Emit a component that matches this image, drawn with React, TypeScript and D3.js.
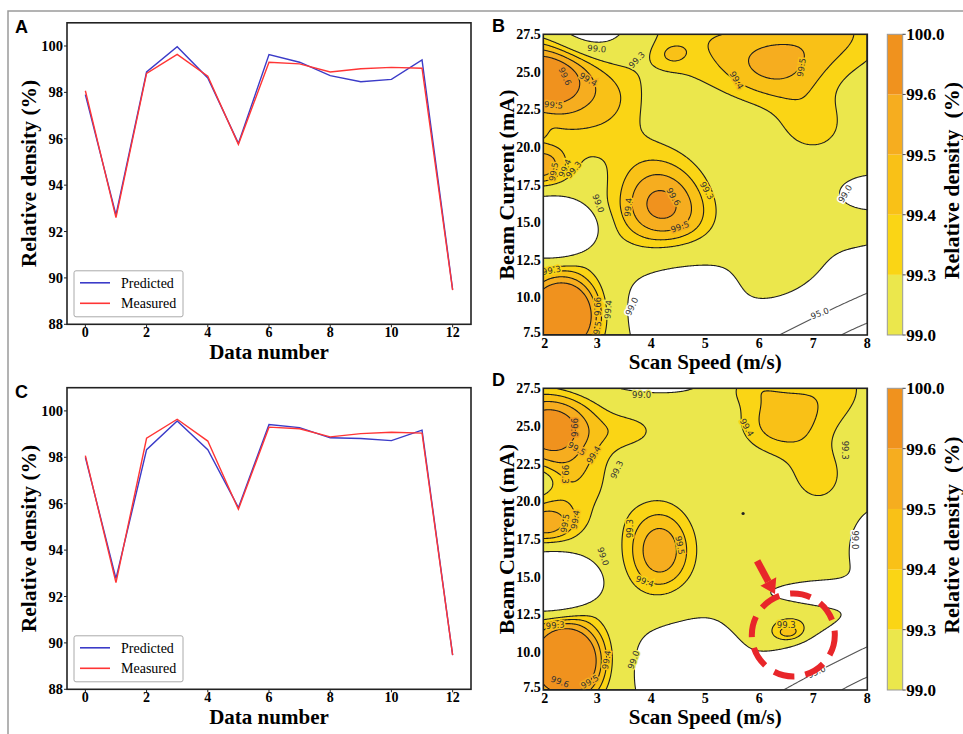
import React, { useMemo } from "react";
import * as d3 from "d3";

// ---------------- data: line panels ----------------
const dataNumber = [0, 1, 2, 3, 4, 5, 6, 7, 8, 9, 10, 11, 12];
const predictedA = [97.9, 92.72, 98.88, 99.97, 98.62, 95.8, 99.63, 99.3, 98.72, 98.46, 98.56, 99.4, 89.5];
const measuredA = [98.07, 92.6, 98.82, 99.64, 98.7, 95.76, 99.3, 99.23, 98.88, 99.02, 99.08, 99.04, 89.47];
const predictedC = [98.0, 92.77, 98.33, 99.57, 98.33, 95.83, 99.41, 99.28, 98.84, 98.81, 98.72, 99.17, 89.47];
const measuredC = [98.07, 92.6, 98.82, 99.64, 98.7, 95.76, 99.3, 99.23, 98.88, 99.02, 99.08, 99.04, 89.47];
const densityTicks = [88, 90, 92, 94, 96, 98, 100];
const numberTicks = [0, 2, 4, 6, 8, 10, 12];
const seriesNames = ["Predicted", "Measured"];

// ---------------- data: contour panels ----------------
const speedTicks = [2, 3, 4, 5, 6, 7, 8];
const currentTicks = [7.5, 10, 12.5, 15, 17.5, 20, 22.5, 25, 27.5];
const fillLevels = [99.0, 99.3, 99.4, 99.5, 99.6, 100.0];
const lineLevels = [88, 95, 99.0, 99.3, 99.4, 99.5, 99.6];
const colorbarTicks = ["100.0", "99.6", "99.5", "99.4", "99.3", "99.0"];

// density surface B: base level + bumps (centre speed, centre current, amplitude, spread u, spread v, rotation, shape)
const baseB = 99.12;
const bumpB_s = [2.0, 2.9, 4.7, 7.5, 6.25, 7.0, 4.38, 2.8, 1.9, 1.95, 4.15, 4.9, 2.35, 2.15, 8.1, 7.84, 4.6, 7.6, 6.45, 3.4];
const bumpB_c = [24.8, 28.3, 27.5, 27.8, 25.1, 21.3, 26.1, 21.3, 18.7, 21.1, 16.1, 14.6, 8.8, 14.6, 17.0, 7.33, 9.3, 12.0, 11.4, 23.3];
const bumpB_a = [0.62, -0.5, 0.24, 0.27, 0.29, 0.22, 0.1, 0.2, 0.42, 0.08, 0.51, 0.08, 0.85, -0.6, -0.3, -12, -0.45, -0.12, 0.22, 0.08];
const bumpB_su = [40, 30, 60, 50, 40, 30, 11, 45, 21.5, 6, 35.6, 25, 29.7, 33, 25, 150, 44, 30, 25, 20];
const bumpB_sv = [28.6, 22, 40, 35, 28, 25, 8, 30, 15, 7, 37.6, 25, 30.8, 22, 13, 25.3, 38, 20, 22, 20];
const bumpB_rot = [0, 0, 0, 0, 0, 0, 0, 0, 0, 0, 0, 0, 0, 0, 0, 24.5, 0, 0, 0, 0];
const bumpB_shape = [1, 1, 1, 1, 1, 1, 1, 1, 1, 1, 1, 1, 1, 2, 1, 1, 1, 1, 1, 1];

// density surface D
const baseD = 99.12;
const bumpD_s = [2.1, 4.0, 3.7, 2.5, 1.85, 2.0, 2.15, 2.43, 4.16, 6.3, 7.3, 7.1, 5.75, 8.15, 7.86, 4.7, 6.6, 6.55, 7.3];
const bumpD_c = [25.0, 28.6, 24.7, 21.0, 21.4, 18.45, 14.6, 9.4, 16.7, 25.1, 27.6, 21.5, 28.0, 16.7, 7.4, 9.0, 12.0, 11.2, 13.8];
const bumpD_a = [0.56, -0.35, 0.17, 0.22, -0.2, 0.38, -0.6, 0.85, 0.46, 0.28, 0.22, 0.22, 0.22, -0.35, -12, -0.4, 0.2, 0.22, -0.4];
const bumpD_su = [38, 60, 25, 35, 15, 25, 35, 30, 27, 33, 40, 25, 25, 18, 150, 44, 32, 13, 45];
const bumpD_sv = [28.6, 15, 15, 30, 10, 15, 22, 31, 36, 26, 35, 25, 15, 30, 25.3, 36, 20, 7, 10];
const bumpD_rot = [0, 0, 0, 0, 0, 0, 0, 0, 0, 0, 0, 0, 0, 0, 26.5, 0, 0, 0, 0];
const bumpD_shape = [1, 1, 1, 1, 1, 1, 2, 1, 1, 1, 1, 1, 1, 1, 1, 1, 1, 1, 1];

// contour labels
const labelB_text = ["99.0", "99.3", "99.6", "99.4", "99.5", "99.5", "99.4", "99.3", "99.0", "99.3", "99.6", "99.4", "99.5", "99.0", "99.6", "99.5", "99.4", "99.3", "99.4", "99.5", "99.0", "95.0"];
const labelB_s = [2.99, 3.73, 2.4, 2.83, 2.19, 2.19, 2.4, 2.56, 3.02, 2.15, 2.99, 3.2, 2.99, 3.64, 4.41, 4.53, 3.57, 5.03, 5.58, 6.78, 7.59, 7.12];
const labelB_c = [26.55, 25.8, 24.7, 24.5, 22.8, 18.36, 18.6, 18.5, 16.25, 11.8, 9.4, 9.2, 7.8, 9.4, 16.7, 14.7, 16.0, 17.1, 24.45, 25.3, 16.9, 8.94];
const labelB_rot = [5, -45, 65, 30, 5, -80, -65, -50, 70, -10, 90, -85, -80, -65, 60, -20, -85, 60, 60, -80, -60, -20];

const labelD_text = ["99.0", "99.6", "99.5", "99.4", "99.3", "99.3", "99.5", "99.4", "99.0", "99.3", "99.4", "99.6", "99.5", "99.0", "99.3", "99.5", "99.4", "99.4", "99.3", "99.0", "99.3", "95.0"];
const labelD_s = [3.82, 2.56, 2.62, 2.93, 2.4, 3.36, 2.4, 2.59, 3.11, 2.22, 3.17, 2.31, 2.86, 3.67, 3.6, 4.53, 3.88, 5.77, 7.59, 7.77, 6.5, 7.06];
const labelD_c = [27.08, 24.9, 23.5, 23.1, 21.8, 22.1, 18.56, 18.8, 16.35, 11.8, 9.5, 8.05, 8.05, 9.5, 18.2, 17.1, 14.7, 24.9, 23.4, 17.45, 11.8, 8.7];
const labelD_rot = [0, 90, 30, -60, 90, -65, -80, -80, 70, -5, -80, 20, -30, -70, -90, 80, 20, 60, 90, 90, 0, -25];

// annotation in D (speed, current)
const markCircle = [6.63, 11.15];
const markArrowFrom = [5.96, 16.06];
const markArrowTo = [6.29, 13.87];
const markDot = [5.7, 19.2];

// ---------------- styles ----------------
const bandColors = ["#ebe74c", "#fad515", "#f9c117", "#f6ad1f", "#f0921e"];
const SERIF = "'Liberation Serif','Times New Roman',serif";
const SANS = "'Liberation Sans',Arial,sans-serif";
const LABELFONT = "'DejaVu Sans',sans-serif";

type Model = { base: number; S: number[]; C: number[]; A: number[]; SU: number[]; SV: number[]; R: number[]; P: number[] };

function makeField(m: Model, kx: number, ky: number) {
  const cs = m.R.map((r) => Math.cos((r * Math.PI) / 180));
  const sn = m.R.map((r) => Math.sin((r * Math.PI) / 180));
  return (s: number, c: number) => {
    let v = m.base;
    for (let i = 0; i < m.S.length; i++) {
      const du = (s - m.S[i]) * kx;
      const dv = (c - m.C[i]) * ky;
      const a = du * cs[i] + dv * sn[i];
      const b = -du * sn[i] + dv * cs[i];
      const r = 0.5 * ((a / m.SU[i]) ** 2 + (b / m.SV[i]) ** 2);
      v += m.A[i] * (m.P[i] === 2 ? Math.exp(-r * r) : Math.exp(-r));
    }
    return v;
  };
}

function bandColor(v: number) {
  if (v < fillLevels[0] || v >= fillLevels[fillLevels.length - 1]) return "#ffffff";
  let k = 0;
  for (let i = 1; i < fillLevels.length - 1; i++) if (v >= fillLevels[i]) k = i;
  return bandColors[k];
}

function LinePanel({ top, bottom, pred, meas, letter }: any) {
  const X0 = 67, X1 = 471;
  const x = d3.scaleLinear().domain([-0.6, 12.6]).range([X0, X1]);
  const y = d3.scaleLinear().domain([88, 101]).range([bottom, top]);
  const line = d3.line<number>().x((_, i) => x(dataNumber[i])).y((d) => y(d));
  const mid = (top + bottom) / 2;
  const lx = 74, lw = 109, lh = 46, ly = bottom - 7.5 - lh;
  return (
    <g>
      <text x={15} y={top + 10} fontFamily={SANS} fontWeight="bold" fontSize={18}>{letter}</text>
      <path d={line(pred) || ""} fill="none" stroke="#3b3bc8" strokeWidth={1.4} />
      <path d={line(meas) || ""} fill="none" stroke="#ff3535" strokeWidth={1.4} />
      <rect x={X0} y={top} width={X1 - X0} height={bottom - top} fill="none" stroke="#222" strokeWidth={1.6} />
      {densityTicks.map((t) => (
        <g key={t}>
          <line x1={X0 - 3} x2={X0} y1={y(t)} y2={y(t)} stroke="#222" strokeWidth={1} />
          <text x={X0 - 4} y={y(t)} dy="0.35em" textAnchor="end" fontFamily={SERIF} fontWeight="bold" fontSize={14.5}>{t}</text>
        </g>
      ))}
      {numberTicks.map((t) => (
        <g key={t}>
          <line x1={x(t)} x2={x(t)} y1={bottom} y2={bottom + 3} stroke="#222" strokeWidth={1} />
          <text x={x(t)} y={bottom + 12.5} textAnchor="middle" fontFamily={SERIF} fontWeight="bold" fontSize={14}>{t}</text>
        </g>
      ))}
      <text x={(X0 + X1) / 2} y={bottom + 34.5} textAnchor="middle" fontFamily={SERIF} fontWeight="bold" fontSize={21}>Data number</text>
      <text transform={`translate(36,${mid}) rotate(-90)`} textAnchor="middle" fontFamily={SERIF} fontWeight="bold" fontSize={21.5}>Relative density (%)</text>
      <rect x={lx} y={ly} width={lw} height={lh} rx={2} fill="#fff" stroke="#aaa" strokeWidth={1} />
      {seriesNames.map((n, i) => (
        <g key={n}>
          <line x1={lx + 6} x2={lx + 36} y1={ly + 12 + i * 20.5} y2={ly + 12 + i * 20.5} stroke={i === 0 ? "#3b3bc8" : "#ff3535"} strokeWidth={1.6} />
          <text x={lx + 47} y={ly + 12 + i * 20.5} dy="0.35em" fontFamily={SERIF} fontSize={14}>{n}</text>
        </g>
      ))}
    </g>
  );
}

function ContourPanel({ id, top, bottom, model, lt, ls, lc, lr, letter, children }: any) {
  const X0 = 543.3, X1 = 867.3;
  const xs = d3.scaleLinear().domain([2, 8]).range([X0, X1]);
  const ys = d3.scaleLinear().domain([7.5, 27.5]).range([bottom, top]);
  const kx = (X1 - X0) / 6, ky = (bottom - top) / 20;
  const f = useMemo(() => makeField(model, kx, ky), [model, kx, ky]);
  const { fills, lines } = useMemo(() => {
    const nx = 324, ny = Math.round(bottom - top);
    const vals = new Array(nx * ny);
    for (let j = 0; j < ny; j++) {
      const c = ys.invert(top + ((j + 0.5) * (bottom - top)) / ny);
      for (let i = 0; i < nx; i++) {
        const s = xs.invert(X0 + ((i + 0.5) * (X1 - X0)) / nx);
        vals[j * nx + i] = f(s, c);
      }
    }
    const proj = d3.geoTransform({
      point(px: number, py: number) {
        (this as any).stream.point(X0 + (px * (X1 - X0)) / nx, top + (py * (bottom - top)) / ny);
      },
    });
    const path = d3.geoPath(proj);
    const fc = d3.contours().size([nx, ny]).thresholds(fillLevels)(vals);
    const lcn = d3.contours().size([nx, ny]).thresholds(lineLevels)(vals);
    return {
      fills: fc.map((g, i) => ({ d: path(g as any) || "", color: i < bandColors.length ? bandColors[i] : "#ffffff" })),
      lines: lcn.map((g) => ({ d: path(g as any) || "", v: g.value })),
    };
  }, [f, top, bottom]);
  const mid = (top + bottom) / 2;
  const cbX = 887.3, cbW = 15.4, seg = (bottom - top) / 5;
  return (
    <g>
      <text x={492} y={top - 2} fontFamily={SANS} fontWeight="bold" fontSize={18}>{letter}</text>
      <clipPath id={id}>
        <rect x={X0} y={top} width={X1 - X0} height={bottom - top} />
      </clipPath>
      <g clipPath={`url(#${id})`}>
        <rect x={X0} y={top} width={X1 - X0} height={bottom - top} fill="#fff" />
        {fills.map((p, i) => (
          <path key={i} d={p.d} fill={p.color} stroke="none" />
        ))}
        {lines.map((p, i) => (
          <path key={i} d={p.d} fill="none" stroke={p.v < 99 ? "#555" : "#1e1e1e"} strokeWidth={1.1} />
        ))}
        {lt.map((t: string, i: number) => {
          const px = xs(ls[i]), py = ys(lc[i]);
          return (
            <text key={i} transform={`translate(${px},${py}) rotate(${lr[i]})`} textAnchor="middle" dy="0.35em"
              fontFamily={LABELFONT} fontSize={8.5} fill="#333" stroke={bandColor(f(ls[i], lc[i]))} strokeWidth={3}
              style={{ paintOrder: "stroke" }}>{t}</text>
          );
        })}
        {children && children(xs, ys)}
      </g>
      <rect x={X0} y={top} width={X1 - X0} height={bottom - top} fill="none" stroke="#222" strokeWidth={1.6} />
      {speedTicks.map((t) => (
        <text key={t} x={xs(t) + (t === 2 ? 1.5 : 0)} y={bottom + 12.5} textAnchor="middle" fontFamily={SERIF} fontWeight="bold" fontSize={14}>{t}</text>
      ))}
      {currentTicks.map((t) => (
        <text key={t} x={X0 - 2.5} y={ys(t) - (t === 7.5 ? 2.5 : 0)} dy="0.35em" textAnchor="end" fontFamily={SERIF} fontWeight="bold" fontSize={14}>{t.toFixed(1)}</text>
      ))}
      <text x={(X0 + X1) / 2} y={bottom + 33.5} textAnchor="middle" fontFamily={SERIF} fontWeight="bold" fontSize={21}>Scan Speed (m/s)</text>
      <text transform={`translate(514,${mid}) rotate(-90)`} textAnchor="middle" fontFamily={SERIF} fontWeight="bold" fontSize={22}>Beam Current (mA)</text>
      {/* colorbar */}
      {bandColors.map((c, i) => (
        <rect key={i} x={cbX} y={bottom - (i + 1) * seg} width={cbW} height={seg} fill={c} stroke="none" />
      ))}
      <rect x={cbX} y={top} width={cbW} height={bottom - top} fill="none" stroke="#999" strokeWidth={1} />
      {colorbarTicks.map((t, i) => (
        <g key={t}>
          <line x1={cbX + cbW} x2={cbX + cbW + 3} y1={top + i * seg} y2={top + i * seg} stroke="#444" strokeWidth={1} />
          <text x={cbX + cbW + 3.5} y={top + i * seg} dy="0.35em" fontFamily={SERIF} fontWeight="bold" fontSize={17}>{t}</text>
        </g>
      ))}
      <text transform={`translate(959,${mid - 4}) rotate(-90)`} textAnchor="middle" fontFamily={SERIF} fontWeight="bold" fontSize={22}
        style={{ whiteSpace: "pre" }}>{"Relative density  (%)"}</text>
    </g>
  );
}

const modelB: Model = { base: baseB, S: bumpB_s, C: bumpB_c, A: bumpB_a, SU: bumpB_su, SV: bumpB_sv, R: bumpB_rot, P: bumpB_shape };
const modelD: Model = { base: baseD, S: bumpD_s, C: bumpD_c, A: bumpD_a, SU: bumpD_su, SV: bumpD_sv, R: bumpD_rot, P: bumpD_shape };

export default function App() {
  const annotate = (xs: any, ys: any) => {
    const x1 = xs(markArrowFrom[0]), y1 = ys(markArrowFrom[1]);
    const x2 = xs(markArrowTo[0]), y2 = ys(markArrowTo[1]);
    const ang = Math.atan2(y2 - y1, x2 - x1);
    const hl = 14, hw = 9;
    const bx = x2 - hl * Math.cos(ang), by = y2 - hl * Math.sin(ang);
    const nx = -Math.sin(ang), ny = Math.cos(ang);
    return (
      <g>
        <circle cx={xs(markDot[0])} cy={ys(markDot[1])} r={1.6} fill="#222" />
        <circle cx={xs(markCircle[0])} cy={ys(markCircle[1])} r={41.5} fill="none" stroke="#e8262a" strokeWidth={6} strokeDasharray="21 11" />
        <line x1={x1} y1={y1} x2={bx} y2={by} stroke="#e8262a" strokeWidth={7} />
        <polygon points={`${x2},${y2} ${bx + nx * hw},${by + ny * hw} ${bx - nx * hw},${by - ny * hw}`} fill="#e8262a" />
      </g>
    );
  };
  return (
    <svg width={963} height={734} style={{ position: "absolute", left: 0, top: 0, background: "#fff" }}>
      <rect x={0} y={0} width={963} height={734} fill="#fff" />
      <path d="M8,734 V11 H963" fill="none" stroke="#9a9a9a" strokeWidth={1.5} />
      <LinePanel top={22.8} bottom={324.3} pred={predictedA} meas={measuredA} letter="A" />
      <LinePanel top={387.7} bottom={689.3} pred={predictedC} meas={measuredC} letter="C" />
      <ContourPanel id="clipB" top={34.3} bottom={335} model={modelB} lt={labelB_text} ls={labelB_s} lc={labelB_c} lr={labelB_rot} letter="B" />
      <ContourPanel id="clipD" top={388.3} bottom={690} model={modelD} lt={labelD_text} ls={labelD_s} lc={labelD_c} lr={labelD_rot} letter="D">
        {annotate}
      </ContourPanel>
    </svg>
  );
}
